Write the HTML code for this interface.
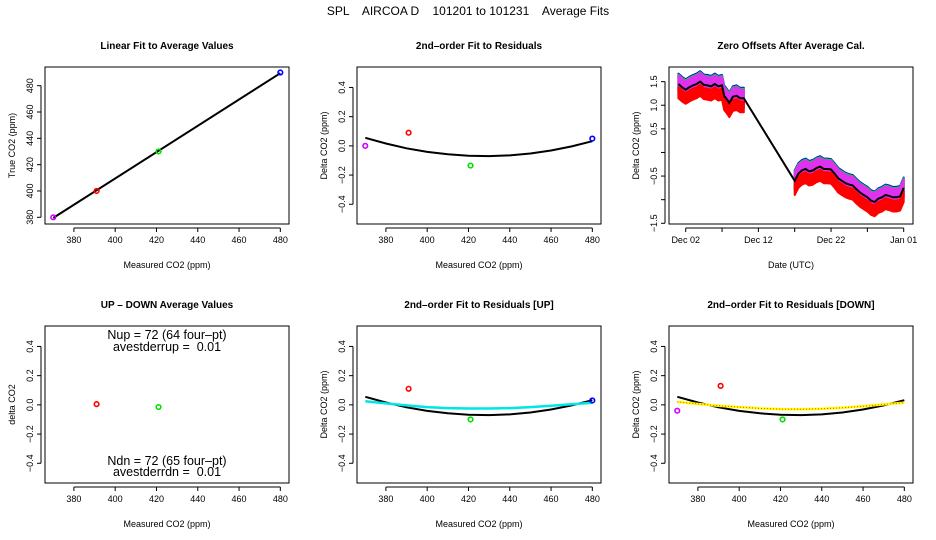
<!DOCTYPE html>
<html><head><meta charset="utf-8">
<style>
html,body{margin:0;padding:0;background:#fff;}
svg{display:block;font-family:"Liberation Sans",sans-serif;}
.t{font-weight:bold;font-size:10px;text-anchor:middle;}
.tk{font-size:9px;}
.al{font-size:9px;text-anchor:middle;}
</style></head>
<body>
<svg id="c" width="936" height="540" viewBox="0 0 936 540" xmlns="http://www.w3.org/2000/svg">
<rect width="936" height="540" fill="#fff"/>
<text x="468" y="15" font-size="12" text-anchor="middle" style="white-space:pre">SPL    AIRCOA D    101201 to 101231    Average Fits</text>
</svg>
<script>
// ---- data ----
const calX = [370, 391, 421, 480];
const calTrue = [380, 400, 430, 490];
const calColors = ['#d000ff', '#ff0000', '#00e000', '#0000ff'];
const resAll = [0.0, 0.09, -0.135, 0.05];
const resUp = [null, 0.11, -0.1, 0.03];
const resDown = [-0.04, 0.13, -0.1, null];
const udX = [391, 421];
const udVals = [0.005, -0.015];
const fitX = [370, 380, 390, 400, 410, 420, 430, 440, 450, 460, 470, 480];
const fitAll = [0.055, 0.016, -0.017, -0.041, -0.058, -0.067, -0.07, -0.065, -0.052, -0.032, -0.004, 0.032];
const fitUp = [0.025, 0.01, -0.004, -0.015, -0.022, -0.025, -0.025, -0.022, -0.015, -0.006, 0.004, 0.015];
const fitDown = [0.02, 0.006, -0.006, -0.015, -0.024, -0.029, -0.03, -0.027, -0.02, -0.009, 0.003, 0.015];
const linX = [370, 480];
const linY = [379.5, 489.5];
// time series (day of December, value in ppm)
const tsDays1 = [1, 1.5, 2, 2.5, 3, 3.5, 4, 4.5, 5, 5.5, 6, 6.5, 7, 7.3, 7.7, 8, 8.5, 9, 9.5, 10];
const tsMean1 = [1.45, 1.38, 1.33, 1.38, 1.42, 1.45, 1.5, 1.43, 1.42, 1.4, 1.45, 1.4, 1.42, 1.2, 1.12, 1.05, 1.18, 1.2, 1.15, 1.15];
const tsDays2 = [17, 17.5, 18, 18.5, 19, 19.5, 20, 20.5, 21, 21.5, 22, 22.5, 23, 23.5, 24, 24.5, 25, 25.5, 26, 26.5, 27, 27.5, 28, 28.5, 29, 29.5, 30, 30.5, 31, 31.5, 32];
const tsMean2 = [-0.6, -0.45, -0.38, -0.35, -0.4, -0.38, -0.33, -0.3, -0.35, -0.35, -0.36, -0.45, -0.55, -0.6, -0.65, -0.68, -0.7, -0.78, -0.85, -0.9, -0.95, -1.02, -1.05, -0.98, -0.95, -0.9, -0.92, -0.95, -0.95, -0.93, -0.75];
const dateTicks = [2, 7, 12, 17, 22, 27, 32];
const dateLabels = ['Dec 02', '', 'Dec 12', '', 'Dec 22', '', 'Jan 01'];
const xTicks = [380, 400, 420, 440, 460, 480];
const resTicks = [-0.4, -0.2, 0.0, 0.2, 0.4];
const resTickLabels = ['\u22120.4', '\u22120.2', '0.0', '0.2', '0.4'];
const linTicks = [380, 400, 420, 440, 460, 480];
const tsTicks = [-1.5, -1.0, -0.5, 0.0, 0.5, 1.0, 1.5];
const tsTickLabels = ['\u22121.5', '', '\u22120.5', '', '0.5', '1.0', '1.5'];

const svg = document.getElementById('c');
const NS = 'http://www.w3.org/2000/svg';
function mk(tag, attrs, parent) {
  const e = document.createElementNS(NS, tag);
  for (const k in attrs) e.setAttribute(k, attrs[k]);
  (parent || svg).appendChild(e);
  return e;
}
function txt(x, y, s, cls, parent, extra) {
  const e = mk('text', Object.assign({x: x, y: y, class: cls}, extra || {}), parent);
  e.textContent = s;
  return e;
}

function panel(name, left, top, xmin, xmax, ymin, ymax, title, xlab, ylab) {
  const g = mk('g', {});
  
  
  const W = 244, H = 157;
  const sx = v => left + (v - xmin) / (xmax - xmin) * W;
  const sy = v => top + H - (v - ymin) / (ymax - ymin) * H;
  const fr = mk('rect', {x: left, y: top, width: W, height: H, fill: 'none', stroke: '#000', 'stroke-width': 1}, g);
  
  
  const tt = txt(left + W / 2, top - 18, title, 't', g);
  
  
  const xl = txt(left + W / 2, top + H + 44, xlab, 'al', g);
  
  
  const yl = txt(0, 0, ylab, 'al', g, {transform: 'translate(' + (left - 30) + ',' + (top + H / 2) + ') rotate(-90)'});
  
  
  return {g, sx, sy, left, top, W, H};
}
function xAxis(p, ticks, labels) {
  const by = p.top + p.H + 4;
  mk('line', {x1: p.sx(ticks[0]), x2: p.sx(ticks[ticks.length - 1]), y1: by, y2: by, stroke: '#000'}, p.g);
  ticks.forEach((t, i) => {
    const x = p.sx(t);
    mk('line', {x1: x, x2: x, y1: by, y2: by + 4, stroke: '#000'}, p.g);
    if (labels[i]) {
      const l = txt(x, by + 15, labels[i], 'tk', p.g, {'text-anchor': 'middle'});
      
      
    }
  });
}
function yAxis(p, ticks, labels) {
  const bx = p.left - 4;
  mk('line', {x1: bx, x2: bx, y1: p.sy(ticks[0]), y2: p.sy(ticks[ticks.length - 1]), stroke: '#000'}, p.g);
  ticks.forEach((t, i) => {
    const y = p.sy(t);
    mk('line', {x1: bx - 4, x2: bx, y1: y, y2: y, stroke: '#000'}, p.g);
    if (labels[i]) {
      const l = txt(0, 0, labels[i], 'tk', p.g, {'text-anchor': 'middle', transform: 'translate(' + (bx - 8) + ',' + y + ') rotate(-90)'});
      
      
    }
  });
}
function pt(p, x, y, color) {
  const c = mk('circle', {cx: p.sx(x), cy: p.sy(y), r: 2.3, fill: 'none', stroke: color, 'stroke-width': 1.6}, p.g);
  
  
}
function curve(p, xs, ys, color, w, dash, name) {
  const d = xs.map((x, i) => (i ? 'L' : 'M') + p.sx(x).toFixed(1) + ',' + p.sy(ys[i]).toFixed(1)).join(' ');
  const e = mk('path', {d: d, fill: 'none', stroke: color, 'stroke-width': w}, p.g);
  if (dash) e.setAttribute('stroke-dasharray', dash);
  
  
  return e;
}
const xLab = xTicks.map(String);

// Panel 1: linear fit
const p1 = panel('linear-fit-panel', 45, 67, 366, 484.2, 374.9, 494.2, 'Linear Fit to Average Values', 'Measured CO2 (ppm)', 'True CO2 (ppm)');
xAxis(p1, xTicks, xLab); yAxis(p1, linTicks, linTicks.map(String));
curve(p1, linX, linY, '#000', 2, null, 'linear-fit-line');
calX.forEach((x, i) => pt(p1, x, calTrue[i], calColors[i]));

// Panel 2: residual fit
const ry0 = -0.535, ry1 = 0.54;
const p2 = panel('residual-fit-panel', 357, 67, 366, 484.2, ry0, ry1, '2nd\u2013order Fit to Residuals', 'Measured CO2 (ppm)', 'Delta CO2 (ppm)');
xAxis(p2, xTicks, xLab); yAxis(p2, resTicks, resTickLabels);
curve(p2, fitX, fitAll, '#000', 2, null, 'fit-curve');
calX.forEach((x, i) => { if (resAll[i] !== null) pt(p2, x, resAll[i], calColors[i]); });

// Panel 3: time series
const p3 = panel('zero-offsets-panel', 669, 67, -0.3, 33.28, -1.515, 1.81, 'Zero Offsets After Average Cal.', 'Date (UTC)', 'Delta CO2 (ppm)');
xAxis(p3, dateTicks, dateLabels); yAxis(p3, tsTicks, tsTickLabels);
function band(days, mean, lo, hi, color, name) {
  const up = days.map((d, i) => p3.sx(d).toFixed(1) + ',' + p3.sy(mean[i] + hi).toFixed(1));
  const dn = days.map((d, i) => p3.sx(d).toFixed(1) + ',' + p3.sy(mean[i] + lo).toFixed(1)).reverse();
  const e = mk('polygon', {points: up.concat(dn).join(' '), fill: color, stroke: color, 'stroke-width': 2, 'stroke-linejoin': 'round'}, p3.g);
  
  
}
[[tsDays1, tsMean1], [tsDays2, tsMean2]].forEach(([d, m]) => {
  band(d, m, -0.2, 0.22, '#0000ff', 'blue-offset-band');
  band(d, m, -0.1, 0.2, '#00e000', 'green-offset-band');
  band(d, m, -0.06, 0.18, '#e030f0', 'purple-offset-band');
  band(d, m, -0.3, -0.07, '#ff0000', 'red-offset-band');
});
curve(p3, tsDays1.concat(tsDays2), tsMean1.concat(tsMean2), '#000', 2, null, 'mean-offset-line');

// Panel 4: up-down
const p4 = panel('up-down-panel', 45, 326, 366, 484.2, ry0, ry1, 'UP \u2013 DOWN Average Values', 'Measured CO2 (ppm)', 'delta CO2');
xAxis(p4, xTicks, xLab); yAxis(p4, resTicks, resTickLabels);
udX.forEach((x, i) => pt(p4, x, udVals[i], calColors[i + 1]));
[['Nup = 72 (64 four\u2013pt)', 339, 'nup-annotation'], ['avestderrup =  0.01', 351, 'avestderrup-annotation'],
 ['Ndn = 72 (65 four\u2013pt)', 465, 'ndn-annotation'], ['avestderrdn =  0.01', 476, 'avestderrdn-annotation']].forEach(a => {
  const e = txt(167, a[1], a[0], '', p4.g, {'font-size': 12.5, 'text-anchor': 'middle', style: 'white-space:pre'});
  
  
});

// Panel 5: UP
const p5 = panel('residual-up-panel', 357, 326, 366, 484.2, ry0, ry1, '2nd\u2013order Fit to Residuals [UP]', 'Measured CO2 (ppm)', 'Delta CO2 (ppm)');
xAxis(p5, xTicks, xLab); yAxis(p5, resTicks, resTickLabels);
curve(p5, fitX, fitAll, '#000', 2, null, 'fit-curve');
curve(p5, fitX, fitUp, '#00e5e5', 2.5, null, 'up-fit-curve');
calX.forEach((x, i) => { if (resUp[i] !== null) pt(p5, x, resUp[i], calColors[i]); });

// Panel 6: DOWN
const p6 = panel('residual-down-panel', 669, 326, 366, 484.2, ry0, ry1, '2nd\u2013order Fit to Residuals [DOWN]', 'Measured CO2 (ppm)', 'Delta CO2 (ppm)');
xAxis(p6, xTicks, xLab); yAxis(p6, resTicks, resTickLabels);
curve(p6, fitX, fitAll, '#000', 2, null, 'fit-curve');
curve(p6, fitX, fitDown, '#ffff00', 2.5, null, 'down-fit-curve');
curve(p6, fitX, fitDown, '#ff4000', 1, '1,2', 'down-fit-curve-dots');
calX.forEach((x, i) => { if (resDown[i] !== null) pt(p6, x, resDown[i], calColors[i]); });
</script>
</body></html>
